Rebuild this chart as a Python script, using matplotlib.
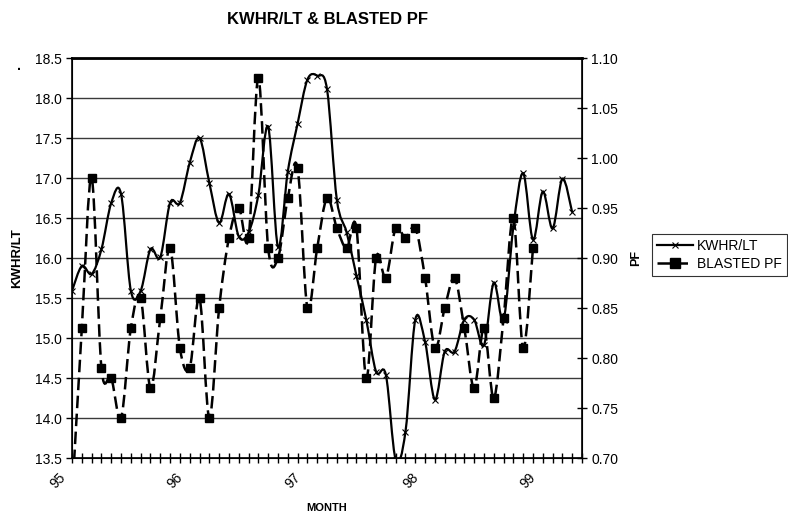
import matplotlib
matplotlib.use("Agg")
import matplotlib.pyplot as plt
import matplotlib.transforms as mtransforms
import numpy as np
from matplotlib.path import Path
from matplotlib.patches import PathPatch
from matplotlib.lines import Line2D

plt.rcParams['font.family'] = ['Liberation Sans', 'DejaVu Sans']

# === Data (monthly, Jan 95 onward) ===
year_labels = ["95", "96", "97", "98", "99"]
n_months = 53  # category slots on the axis (last one empty)

kwhr_lt = [15.59, 15.90, 15.80, 16.11, 16.69, 16.80, 15.59, 15.59, 16.11, 16.01,
           16.69, 16.69, 17.19, 17.50, 16.94, 16.44, 16.80, 16.27, 16.32, 16.79,
           17.64, 16.14, 17.08, 17.68, 18.23, 18.28, 18.11, 16.73, 16.32, 15.78,
           15.23, 14.58, 14.54, 13.48, 13.83, 15.23, 14.95, 14.23, 14.83, 14.83,
           15.23, 15.23, 14.91, 15.69, 15.23, 16.39, 17.06, 16.23, 16.83, 16.37,
           16.99, 16.57]

blasted_pf = [0.66, 0.83, 0.98, 0.79, 0.78, 0.74, 0.83, 0.86, 0.77, 0.84,
              0.91, 0.81, 0.79, 0.86, 0.74, 0.85, 0.92, 0.95, 0.92, 1.08,
              0.91, 0.90, 0.96, 0.99, 0.85, 0.91, 0.96, 0.93, 0.91, 0.93,
              0.78, 0.90, 0.88, 0.93, 0.92, 0.93, 0.88, 0.81, 0.85, 0.88,
              0.83, 0.77, 0.83, 0.76, 0.84, 0.94, 0.81, 0.91]


def smooth_path(y):
    """Excel-style smoothed line as cubic Bezier segments."""
    x = np.arange(len(y), dtype=float)
    y = np.asarray(y, dtype=float)
    n = len(y)
    verts = [(x[0], y[0])]
    codes = [Path.MOVETO]
    for i in range(n - 1):
        a = i - 1 if i > 0 else i
        d = i + 2 if i + 2 < n else i + 1
        c1 = (x[i] + (x[i + 1] - x[a]) / 6, y[i] + (y[i + 1] - y[a]) / 6)
        c2 = (x[i + 1] - (x[d] - x[i]) / 6, y[i + 1] - (y[d] - y[i]) / 6)
        verts += [c1, c2, (x[i + 1], y[i + 1])]
        codes += [Path.CURVE4] * 3
    return Path(verts, codes)


# === Figure ===
fig = plt.figure(figsize=(7.88, 5.19), dpi=100)
ax = fig.add_axes([0.0914, 0.1175, 0.6472, 0.7707])
ax2 = ax.twinx()

# KWHR/LT (left axis)
ax.add_patch(PathPatch(smooth_path(kwhr_lt), fill=False, edgecolor="black", lw=1.6, zorder=3))
ax.plot(np.arange(len(kwhr_lt)), kwhr_lt, linestyle="none", marker="x", ms=4,
        mew=0.8, color="black", zorder=4)

# BLASTED PF (right axis)
ax2.add_patch(PathPatch(smooth_path(blasted_pf), fill=False, edgecolor="black", lw=1.8,
                        linestyle=(0, (5, 2.2)), zorder=3))
ax2.plot(np.arange(len(blasted_pf)), blasted_pf, linestyle="none", marker="s", ms=6,
         color="black", zorder=4)

# Axes limits / ticks
ax.set_xlim(0, n_months - 1)
ax.set_ylim(13.5, 18.5)
ax.set_yticks(np.arange(13.5, 18.51, 0.5))
ax.set_yticklabels([f"{v:.1f}" for v in np.arange(13.5, 18.51, 0.5)], fontsize=10)
ax.yaxis.grid(True, color="#3a3a3a", lw=1.0)
ax.set_axisbelow(True)

ax2.set_ylim(0.70, 1.10)
ax2.set_yticks(np.arange(0.70, 1.101, 0.05))
ax2.set_yticklabels([f"{v:.2f}" for v in np.arange(0.70, 1.101, 0.05)], fontsize=10)

ax.tick_params(axis="y", direction="out", length=4, width=1, pad=3)
ax.tick_params(axis="x", direction="inout", length=7, width=1, pad=2)
ax2.tick_params(axis="y", direction="inout", length=7, width=1, pad=3)

xt = np.arange(n_months)
ax.set_xticks(xt)
ax.set_xticklabels([year_labels[i // 12] if i % 12 == 0 and i // 12 < len(year_labels) else ""
                    for i in xt], rotation=45, ha="right", va="top", fontsize=10,
                   rotation_mode="anchor")
# Excel puts the end of each rotated label a little left of / below its tick
shift = mtransforms.ScaledTranslation(-0.14, -0.05, fig.dpi_scale_trans)
for lbl in ax.get_xticklabels():
    lbl.set_transform(lbl.get_transform() + shift)

for sp in ["left", "bottom", "right"]:
    ax2.spines[sp].set_linewidth(1.2)
ax2.spines["top"].set_linewidth(2.0)

# Labels
ax.set_ylabel("KWHR/LT", fontsize=9.5, fontweight="bold", labelpad=9)
ax2.set_ylabel("PF", fontsize=9, fontweight="bold", labelpad=9)
fig.text(0.415, 1 - 508 / 519, "MONTH", ha="center", va="center",
         fontsize=8, fontweight="bold")
fig.text(0.415, 0.962, "KWHR/LT & BLASTED PF", ha="center", va="center",
         fontsize=12, fontweight="bold")
fig.text(0.022, 0.865, ".", fontsize=10, fontweight="bold")

# Legend (sticks out past the figure edge like the original)
handles = [
    Line2D([], [], color="black", lw=1.6, marker="x", ms=4, mew=0.8),
    Line2D([], [], color="black", lw=1.8, linestyle=(0, (5, 2.2)), marker="s", ms=7),
]
leg = fig.legend(handles, ["KWHR/LT", "BLASTED PF"], loc="upper left",
                 bbox_to_anchor=(652 / 788, 1 - 234 / 519), fontsize=10,
                 frameon=True, fancybox=False, edgecolor="black", handlelength=2.6,
                 borderpad=0.35, labelspacing=0.3, handletextpad=0.3, borderaxespad=0)
leg.get_frame().set_linewidth(0.8)

plt.savefig("out.png", dpi=100)
